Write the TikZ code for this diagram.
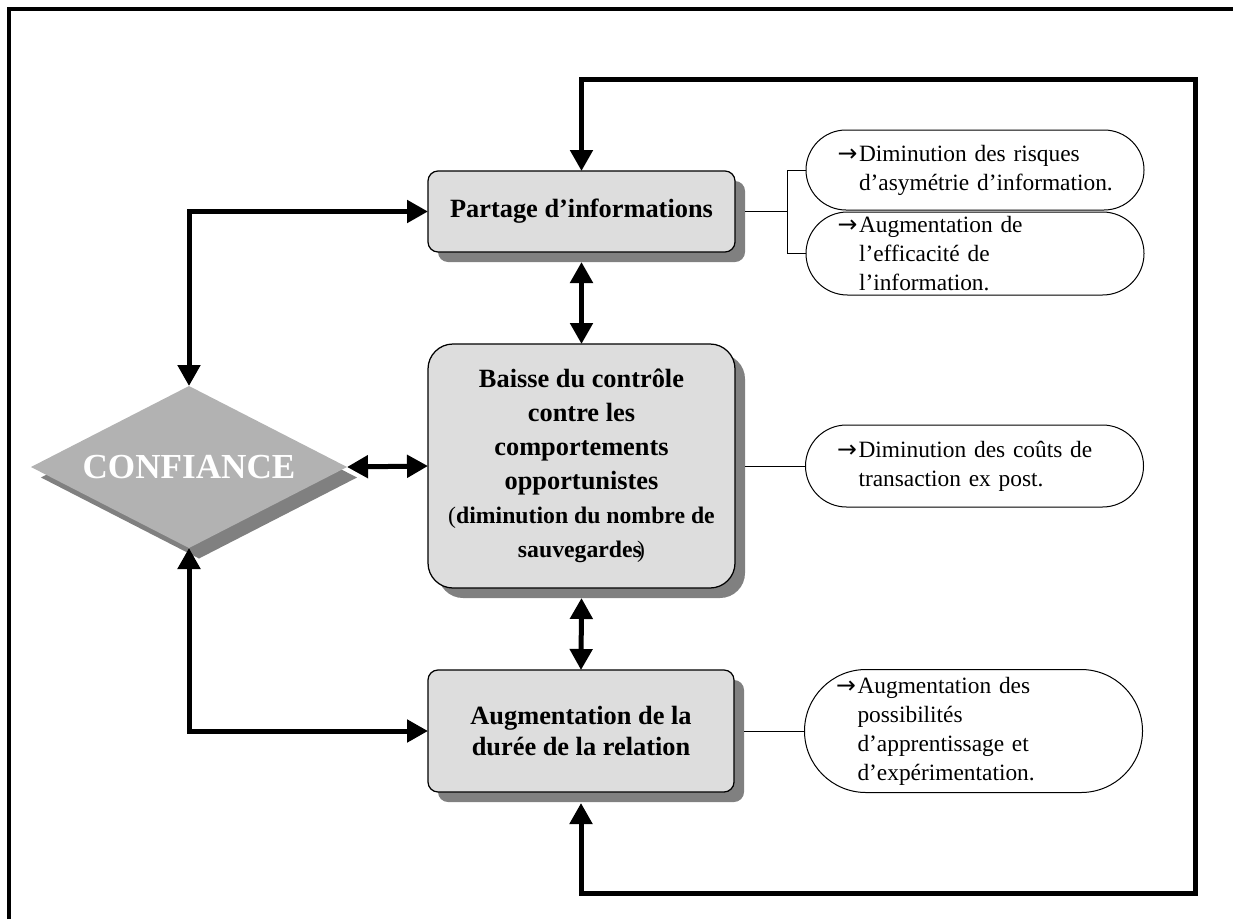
\documentclass[tikz,border=0pt]{standalone}
\usepackage{fontspec}
\setmainfont{Liberation Serif}
\newfontfamily\fleches{DejaVu Sans}
\usetikzlibrary{arrows.meta,shapes.geometric,shapes.misc,shadows}
\definecolor{grisboite}{HTML}{DDDDDD}
\definecolor{grisombre}{HTML}{808080}
\definecolor{grislosange}{HTML}{B2B2B2}
\newcommand{\fl}{\llap{{\fleches\fontsize{13.5}{13.5}\selectfont →}\hspace{0.3mm}}}
\begin{document}
\begin{tikzpicture}[x=0.2mm,y=-0.2mm,inner sep=0pt,outer sep=0pt,
boite/.style={draw,rectangle,rounded corners=2mm,fill=grisboite,line width=0.25mm,align=center,font=\fontsize{15}{18}\selectfont\bfseries,drop shadow={shadow xshift=2mm,shadow yshift=-2mm,fill=grisombre,opacity=1}},
bulle/.style={draw,rounded rectangle,fill=white,line width=0.2mm,text width=46.4mm,align=left,minimum width=67.6mm,font=\fontsize{13.3}{16.5}\selectfont},
gros/.style={line width=1mm,{Triangle[length=4.2mm,width=4.4mm]}-{Triangle[length=4.2mm,width=4.4mm]}},
fin/.style={line width=0.2mm}]
\useasboundingbox (0,0) rectangle (1233,919);
\draw[line width=0.9mm] (9,919) -- (9,9) -- (1233,9);
\draw (581.5,211.5) node[boite,minimum width=61.4mm,minimum height=16.2mm] (part) {Partage d’informations};
\draw (581.5,466) node[boite,rounded corners=5mm,minimum width=61.4mm,minimum height=48.8mm,font=\fontsize{15}{19.3}\selectfont\bfseries] (baisse) {Baisse du contrôle\\contre les\\comportements\\opportunistes\\{\fontsize{13.5}{19.3}\selectfont{\mdseries(}diminution du nombre de}\\{\fontsize{13.5}{19.3}\selectfont sauvegardes\kern-0.2em{\mdseries)}}};
\draw (581,731) node[boite,minimum width=61.2mm,minimum height=24.4mm] (duree) {Augmentation de la\\durée de la relation};
\draw (189,467) node[diamond,aspect=2,fill=grislosange,minimum width=63.2mm,minimum height=32.4mm,text=white,font=\fontsize{20}{24}\selectfont\bfseries,drop shadow={shadow xshift=2mm,shadow yshift=-2.1mm,fill=grisombre,opacity=1}] (conf) {CONFIANCE};
\draw (975,170) node[bulle,minimum height=16mm] (ov1) {\fl Diminution des risques\\\mbox{d’asymétrie d’information.}};
\draw (975,253.5) node[bulle,minimum height=16.6mm] (ov2) {\fl Augmentation de\\l’efficacité de\\l’information.};
\draw (974.5,466) node[bulle,minimum height=16.4mm] (ov3) {\fl\mbox{Diminution des coûts de}\\transaction ex post.};
\draw (973.5,731) node[bulle,minimum height=24.6mm] (ov4) {\fl Augmentation des\\possibilités\\d’apprentissage et\\d’expérimentation.};
\draw[fin] ([xshift=2mm]part.east) -- (787,211.5) coordinate (acc);
\draw[fin] (ov1.west) -| (acc) |- (ov2.west);
\draw[fin] ([xshift=2mm]baisse.east) -- (ov3.west);
\draw[fin] ([xshift=2mm]duree.east) -- (ov4.west);
\draw[gros] (conf.north) |- (part.west);
\draw[gros] (conf.south) |- (duree.west);
\draw[gros] (conf.east) -- (baisse.west);
\draw[gros] ([yshift=-2mm]part.south) -- (baisse.north);
\draw[gros] ([yshift=-2mm]baisse.south) -- (duree.north);
\draw[gros] ([yshift=-2.2mm]duree.south) -- ++(0,90) -| (1195,79) -| (part.north);
\end{tikzpicture}
\end{document}
